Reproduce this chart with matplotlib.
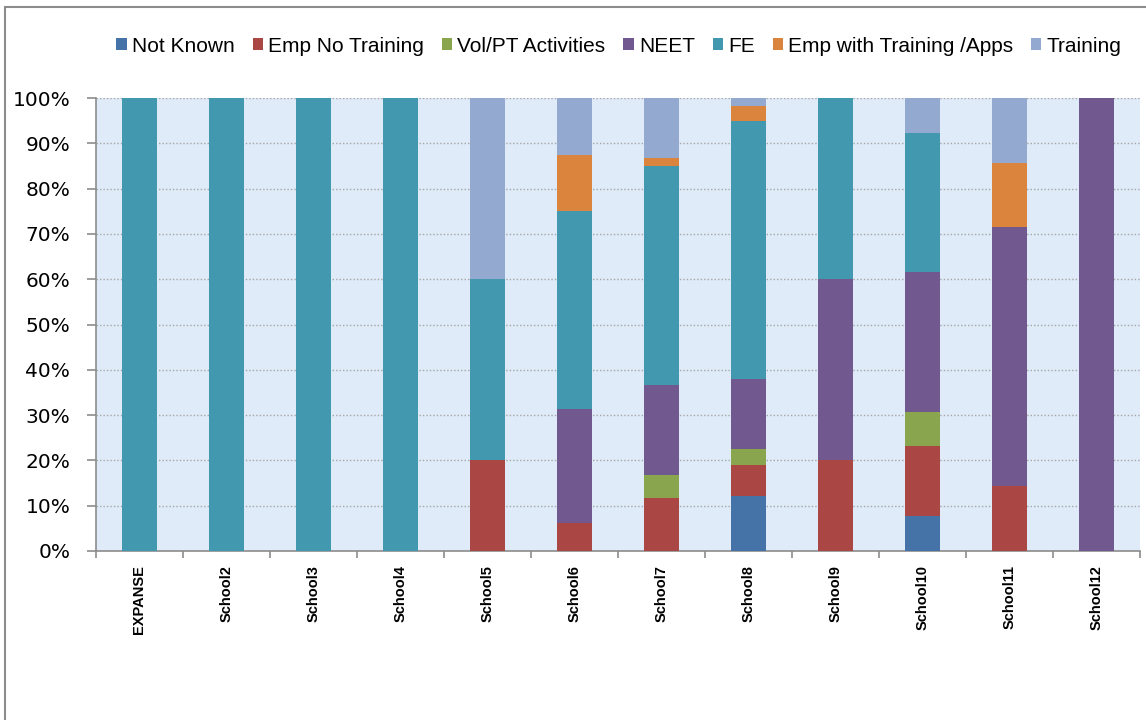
import matplotlib
matplotlib.use("Agg")
import matplotlib.pyplot as plt
from matplotlib.patches import Rectangle
from matplotlib.ticker import PercentFormatter
import numpy as np

plt.rcParams['font.family'] = ['Liberation Sans', 'DejaVu Sans']

categories = ["EXPANSE", "School2", "School3", "School4", "School5", "School6",
              "School7", "School8", "School9", "School10", "School11", "School12"]

series_names = ["Not Known", "Emp No Training", "Vol/PT Activities", "NEET", "FE",
                "Emp with Training /Apps", "Training"]

not_known  = [0, 0, 0, 0, 0, 0, 0, 12.07, 0, 7.69, 0, 0]
emp_no_tr  = [0, 0, 0, 0, 20, 6.25, 11.67, 6.90, 20, 15.38, 14.29, 0]
vol_pt     = [0, 0, 0, 0, 0, 0, 5.00, 3.45, 0, 7.69, 0, 0]
neet       = [0, 0, 0, 0, 0, 25.0, 20.00, 15.52, 40, 30.77, 57.14, 100]
fe         = [100, 100, 100, 100, 40, 43.75, 48.33, 56.90, 40, 30.77, 0, 0]
emp_w_tr   = [0, 0, 0, 0, 0, 12.5, 1.67, 3.45, 0, 0, 14.29, 0]
training   = [0, 0, 0, 0, 40, 12.5, 13.33, 1.72, 0, 7.69, 14.29, 0]

colors = ["#4572a7", "#aa4643", "#89a54e", "#71588f", "#4198af", "#db843d", "#93a9cf"]

series = [not_known, emp_no_tr, vol_pt, neet, fe, emp_w_tr, training]

fig = plt.figure(figsize=(11.46, 7.2), dpi=100)
ax = fig.add_axes([96/1146, 1 - 551/720, (1140 - 96)/1146, (551 - 98)/720])
ax.set_facecolor("#dfebf8")

x = np.arange(len(categories))
bottom = np.zeros(len(categories))
for name, vals, c in zip(series_names, series, colors):
    v = np.array(vals, dtype=float)
    ax.bar(x, v, width=0.4, bottom=bottom, color=c, label=name, zorder=3)
    bottom += v

ax.set_xlim(-0.5, len(categories) - 0.5)
ax.set_ylim(0, 100)
ax.set_yticks(np.arange(0, 101, 10))
ax.yaxis.set_major_formatter(PercentFormatter(decimals=0))
ax.yaxis.grid(True, linestyle=(0, (1, 1.5)), color="#a6a6a6", linewidth=1.0, zorder=1)
ax.set_axisbelow(True)

ax.set_xticks(x)
ax.set_xticklabels(categories, rotation=90, fontsize=10.5, fontweight="bold")
ax.tick_params(axis="x", length=0, pad=10)
ax.set_xticks(np.arange(-0.5, len(categories), 1.0), minor=True)
ax.tick_params(axis="x", which="minor", length=5, color="#8c8c8c", width=1.2)
ax.tick_params(axis="y", length=6.5, color="#8c8c8c", width=1.2, pad=12)
for lbl in ax.get_yticklabels():
    lbl.set_fontfamily(['DejaVu Sans'])
    lbl.set_fontsize(14.5)

for s in ["top", "right"]:
    ax.spines[s].set_visible(False)
for s in ["left", "bottom"]:
    ax.spines[s].set_color("#8c8c8c")
    ax.spines[s].set_linewidth(1.2)

leg = fig.legend(loc="center", bbox_to_anchor=(619/1146, 1 - 46/720), ncol=7,
                 frameon=False, fontsize=15, handlelength=0.5, handleheight=0.5,
                 handletextpad=0.25, columnspacing=0.85, borderaxespad=0)

fig.patches.append(Rectangle((5/1146, -0.1), 1.2, 1 - 7/720 + 0.1,
                             transform=fig.transFigure, fill=False,
                             edgecolor="#8c8c8c", linewidth=1.5))

fig.savefig("out.png", dpi=100)
